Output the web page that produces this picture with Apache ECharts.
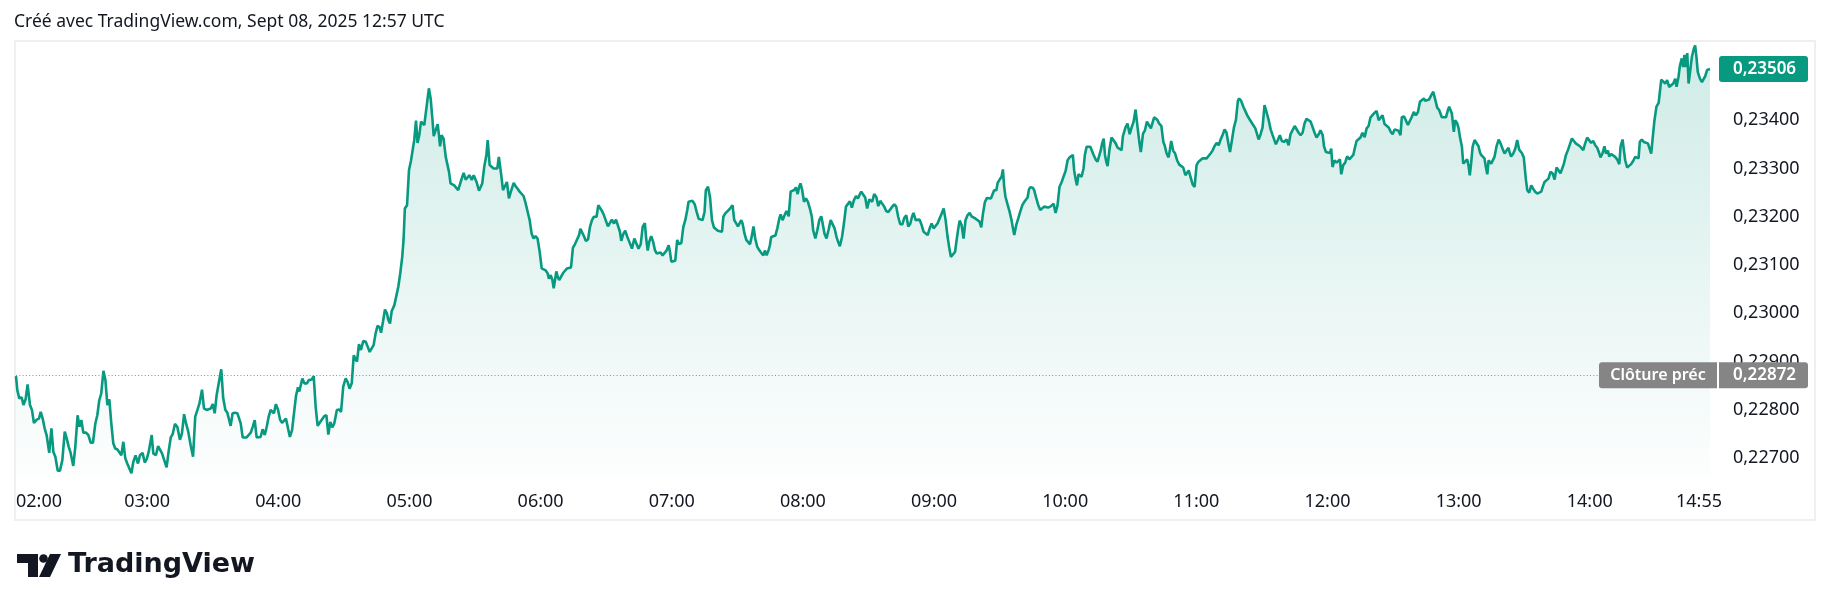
<!DOCTYPE html>
<html>
<head>
<meta charset="utf-8">
<script src="https://cdn.jsdelivr.net/npm/echarts@6/dist/echarts.min.js"></script>
<style>
  html, body { margin: 0; padding: 0; background: #fff; }
  #chart { width: 1830px; height: 611px; }
</style>
</head>
<body>
<div id="chart"></div>
<script>
// minutes after 02:00 UTC
var minutes = [
  0.0,0.6,1.5,2.6,3.4,4.4,5.3,6.4,7.3,8.2,9.5,10.5,11.3,12.2,13.1,14.0,15.2,16.2,17.1,18.0,
  19.1,20.1,21.2,22.3,23.2,24.1,25.0,26.2,27.1,28.2,29.0,29.9,30.8,32.0,33.1,34.2,35.2,36.3,37.2,38.1,
  39.0,40.0,40.9,41.8,42.7,43.6,44.5,45.4,46.4,47.3,48.2,49.1,50.0,50.9,51.8,52.8,53.7,54.7,55.8,56.7,
  57.9,58.9,59.8,60.7,62.1,62.8,64.0,65.0,65.9,66.8,67.7,68.9,69.8,70.8,71.7,72.7,73.8,75.0,75.9,76.9,
  77.8,78.8,79.9,81.0,82.0,83.0,83.9,85.1,86.0,87.2,88.1,89.1,90.0,90.9,91.8,92.7,93.3,93.9,94.8,95.8,
  96.7,97.6,98.2,99.1,100.2,101.3,101.9,102.8,103.7,104.6,105.5,106.4,107.4,108.3,109.2,110.1,111.0,111.9,112.8,113.8,
  114.7,115.6,116.5,117.4,118.0,118.9,119.9,120.8,121.7,122.6,123.5,124.4,125.3,126.3,127.2,128.1,129.0,129.6,
  // 04:10 -> 06:20
  131.0,131.9,133.1,134.0,135.3,136.2,137.1,138.0,138.9,139.8,141.0,142.0,142.9,143.8,144.7,145.6,146.8,147.8,148.7,149.7,
  150.8,151.7,152.6,153.6,154.5,155.4,156.0,156.9,157.8,158.9,160.0,160.9,161.8,162.7,163.6,164.5,165.4,166.4,167.0,167.9,
  168.8,169.7,170.3,171.1,171.9,173.1,174.0,174.9,175.8,176.7,177.3,177.9,178.9,179.8,180.7,181.6,182.2,183.0,183.7,184.5,
  185.3,186.0,186.8,187.4,188.2,188.9,189.7,190.5,191.1,192.0,192.9,193.5,194.0,194.7,195.6,196.6,197.5,198.1,198.8,199.6,
  200.5,201.4,202.3,203.1,203.9,204.8,205.7,206.6,207.5,208.5,209.4,210.0,210.7,211.8,212.7,213.3,214.2,215.2,215.8,216.7,
  217.6,218.5,219.4,220.2,220.9,221.9,222.8,223.7,224.6,225.5,226.4,227.1,227.7,228.6,229.5,230.4,231.3,232.2,233.2,234.1,
  235.0,235.9,236.8,237.7,238.6,239.6,240.5,241.4,242.3,243.2,243.8,244.6,245.4,246.0,246.6,247.2,247.8,248.5,249.3,250.2,
  251.1,252.1,253.0,253.9,254.8,255.7,256.6,257.6,258.2,259.1,260.0,
  // 06:20 -> 08:30
  260.7,261.7,262.6,263.5,264.4,265.6,266.4,267.1,268.1,269.0,269.9,270.8,271.7,272.6,273.6,274.5,275.4,276.3,276.9,277.8,
  278.7,279.7,280.6,281.8,282.9,283.8,284.8,285.8,286.7,287.7,288.3,289.0,289.7,290.6,291.5,292.3,293.1,294.0,294.9,295.8,
  296.7,297.6,298.6,299.2,299.8,300.7,301.6,302.5,303.4,304.4,305.3,306.2,307.1,307.7,308.6,309.5,310.5,311.4,312.3,313.2,
  314.1,315.0,315.6,316.6,317.5,318.4,319.3,320.2,321.1,322.0,323.0,323.6,324.5,325.4,326.3,327.2,327.8,328.6,329.4,330.3,
  330.9,331.8,332.4,333.3,334.1,335.0,335.8,336.7,337.4,338.2,339.1,340.0,341.0,341.9,342.6,343.4,344.3,344.9,345.5,346.4,
  347.4,348.3,349.2,349.8,350.7,351.6,352.5,353.5,354.4,355.3,356.2,356.8,357.6,358.3,358.9,359.7,360.5,361.4,362.3,363.2,
  364.1,364.7,365.7,366.6,367.5,368.4,369.0,369.9,370.8,371.8,372.7,373.6,374.5,375.4,376.3,376.9,377.9,378.8,379.7,380.6,
  381.5,382.4,383.3,384.3,385.2,386.1,386.7,387.6,388.5,389.4,390.4,
  // 08:30 -> 10:40
  391.7,392.6,393.6,394.5,395.4,396.3,397.2,398.1,399.1,400.0,400.9,401.8,402.7,403.6,404.5,405.5,406.4,407.3,408.2,409.1,
  410.0,410.6,411.6,412.5,413.4,414.3,415.2,416.1,417.1,418.0,418.9,419.8,420.7,421.6,422.5,423.5,424.4,425.3,426.2,427.1,
  427.7,428.6,429.6,430.5,431.1,431.7,432.6,433.5,434.4,435.3,436.3,437.2,438.1,439.0,439.9,440.8,441.6,442.4,443.3,444.2,
  445.1,446.0,446.9,447.5,448.5,449.1,450.0,450.9,451.5,452.1,452.7,453.6,454.6,455.5,456.1,456.7,457.6,458.5,459.4,460.4,
  461.3,462.2,462.8,463.4,464.0,465.2,465.8,466.8,467.7,468.6,469.5,470.4,471.3,472.2,473.2,474.1,474.7,475.6,476.5,477.4,
  478.4,479.3,480.2,481.1,482.0,482.9,483.5,484.1,484.8,485.4,486.1,486.9,487.5,488.4,489.0,489.8,490.6,491.5,492.4,493.0,
  493.9,494.8,495.7,496.3,496.9,497.6,498.2,498.8,499.4,500.3,501.2,502.1,503.1,504.0,504.9,505.8,506.4,507.0,507.6,508.5,
  509.5,510.4,511.3,512.2,513.1,514.0,514.6,515.6,516.5,517.4,518.3,519.2,520.1,520.7,
  // 10:40 -> 12:50
  521.2,522.1,523.0,524.0,524.9,525.5,526.4,527.3,527.9,528.5,529.4,530.3,531.3,532.2,533.1,534.0,535.0,535.5,536.5,537.4,
  538.3,539.2,540.1,541.0,541.9,542.9,543.8,544.7,545.6,546.5,547.4,548.3,549.3,550.2,551.1,552.0,552.9,553.8,554.8,555.4,
  556.3,557.2,558.1,559.0,559.6,560.5,561.5,562.4,563.3,564.2,565.1,566.0,567.0,567.6,568.5,569.4,570.3,571.2,572.1,573.1,
  574.0,574.9,575.8,576.4,577.3,578.2,579.1,580.1,580.7,581.3,582.2,583.1,584.0,585.0,585.9,586.8,587.7,588.6,589.5,590.4,
  591.3,592.3,593.2,594.1,595.0,596.0,596.8,597.8,598.4,599.3,600.2,601.1,601.7,602.3,603.2,604.2,605.1,605.7,606.3,607.2,
  608.1,609.0,610.0,610.9,611.8,612.7,613.3,614.2,615.1,616.0,617.0,617.9,618.8,619.7,620.6,621.5,622.5,623.4,624.3,625.2,
  626.1,627.0,628.0,628.9,629.8,630.7,631.6,632.5,633.4,634.0,635.0,635.9,636.8,637.7,638.6,639.5,640.4,641.4,642.3,643.2,
  644.1,644.7,645.6,646.5,647.5,648.4,649.3,650.2,651.1,
  // 12:50 -> 14:55
  652.3,653.2,654.2,655.1,655.7,656.3,656.9,657.8,658.4,659.3,660.0,660.6,661.5,662.1,663.0,663.9,664.5,665.1,665.7,666.4,
  667.3,668.2,669.1,669.7,670.3,671.2,671.8,672.5,673.1,673.7,674.3,674.9,675.8,676.4,677.3,678.3,679.2,680.1,681.0,681.9,
  682.8,683.4,684.0,685.0,685.9,686.8,687.7,688.3,688.9,689.8,690.8,691.4,692.3,693.2,694.1,695.0,696.0,696.9,697.8,698.7,
  699.3,700.2,701.1,702.0,703.0,703.9,704.8,705.7,706.6,707.2,708.1,709.1,710.0,710.9,711.8,712.7,713.6,714.5,715.5,716.4,
  717.0,717.9,718.8,719.7,720.6,721.6,722.5,723.4,724.3,724.9,725.8,726.7,727.4,728.3,728.9,729.8,730.7,731.6,732.5,733.5,
  734.1,735.0,735.6,736.2,737.1,738.0,738.9,739.9,740.8,741.7,742.3,742.9,743.8,744.7,745.6,746.6,747.2,748.1,748.7,749.6,
  750.5,751.5,752.1,752.7,753.6,754.5,755.4,756.3,757.2,758.2,759.1,759.7,760.6,761.2,762.1,762.7,763.3,763.9,764.6,765.2,
  765.8,766.7,767.6,768.2,768.8,769.4,770.4,771.3,772.2,772.8,773.7,774.6,775.0
]

var prices = [
  0.22870,0.22841,0.22824,0.22826,0.22810,0.22822,0.22853,0.22810,0.22800,0.22773,0.22780,0.22782,0.22796,0.22782,0.22762,0.22748,0.22711,0.22762,0.22713,0.22703,
  0.22674,0.22674,0.22696,0.22755,0.22741,0.22724,0.22711,0.22684,0.22722,0.22789,0.22765,0.22779,0.22753,0.22753,0.22748,0.22732,0.22732,0.22772,0.22789,0.22820,
  0.22834,0.22881,0.22862,0.22810,0.22822,0.22772,0.22731,0.22720,0.22718,0.22715,0.22706,0.22734,0.22700,0.22689,0.22688,0.22669,0.22693,0.22706,0.22689,0.22706,
  0.22711,0.22691,0.22698,0.22713,0.22748,0.22710,0.22706,0.22725,0.22727,0.22710,0.22706,0.22681,0.22713,0.22743,0.22750,0.22771,0.22765,0.22738,0.22751,0.22791,
  0.22772,0.22755,0.22727,0.22703,0.22786,0.22800,0.22813,0.22842,0.22803,0.22800,0.22796,0.22803,0.22812,0.22793,0.22831,0.22833,0.22869,0.22884,0.22824,0.22800,
  0.22794,0.22794,0.22767,0.22793,0.22794,0.22793,0.22796,0.22772,0.22743,0.22746,0.22743,0.22746,0.22753,0.22765,0.22779,0.22743,0.22746,0.22744,0.22760,0.22748,
  0.22765,0.22786,0.22800,0.22803,0.22793,0.22812,0.22800,0.22780,0.22773,0.22773,0.22782,0.22778,0.22744,0.22758,0.22794,0.22829,0.22847,0.22838,

  0.22865,0.22855,0.22855,0.22862,0.22863,0.22870,0.22806,0.22767,0.22769,0.22779,0.22787,0.22789,0.22749,0.22775,0.22764,0.22772,0.22800,0.22801,0.22796,0.22848,
  0.22865,0.22858,0.22844,0.22855,0.22913,0.22913,0.22900,0.22936,0.22924,0.22943,0.22941,0.22931,0.22920,0.22924,0.22934,0.22958,0.22974,0.22971,0.22960,0.22983,
  0.23008,0.23000,0.22987,0.22979,0.23005,0.23017,0.23020,0.23055,0.23083,0.23117,0.23152,0.23217,0.23224,0.23297,0.23316,0.23317,0.23359,0.23399,0.23353,0.23369,
  0.23397,0.23400,0.23390,0.23412,0.23441,0.23466,0.23445,0.23403,0.23367,0.23371,0.23392,0.23369,0.23346,0.23369,0.23362,0.23324,0.23323,0.23293,0.23269,0.23267,
  0.23265,0.23262,0.23255,0.23258,0.23279,0.23291,0.23277,0.23281,0.23286,0.23276,0.23286,0.23290,0.23272,0.23254,0.23252,0.23269,0.23303,0.23328,0.23359,0.23307,
  0.23303,0.23300,0.23298,0.23300,0.23324,0.23290,0.23255,0.23252,0.23272,0.23238,0.23252,0.23262,0.23270,0.23263,0.23258,0.23252,0.23248,0.23243,0.23227,0.23210,
  0.23193,0.23165,0.23155,0.23160,0.23155,0.23127,0.23093,0.23091,0.23089,0.23083,0.23072,0.23079,0.23069,0.23052,0.23069,0.23087,0.23076,0.23069,0.23070,0.23083,
  0.23086,0.23093,0.23094,0.23095,0.23136,0.23143,0.23147,0.23162,0.23175,0.23174,0.23158,

  0.23150,0.23153,0.23179,0.23193,0.23200,0.23200,0.23224,0.23222,0.23212,0.23203,0.23205,0.23180,0.23183,0.23194,0.23186,0.23194,0.23190,0.23169,0.23150,0.23164,
  0.23171,0.23158,0.23148,0.23134,0.23155,0.23153,0.23134,0.23143,0.23179,0.23187,0.23155,0.23130,0.23148,0.23160,0.23148,0.23131,0.23124,0.23125,0.23126,0.23120,
  0.23124,0.23130,0.23141,0.23127,0.23107,0.23105,0.23109,0.23152,0.23143,0.23146,0.23179,0.23193,0.23214,0.23231,0.23229,0.23233,0.23226,0.23210,0.23196,0.23192,
  0.23193,0.23210,0.23255,0.23262,0.23241,0.23193,0.23178,0.23176,0.23171,0.23167,0.23169,0.23200,0.23207,0.23210,0.23215,0.23212,0.23224,0.23193,0.23193,0.23180,
  0.23179,0.23193,0.23186,0.23165,0.23152,0.23148,0.23143,0.23162,0.23180,0.23155,0.23138,0.23131,0.23125,0.23120,0.23130,0.23120,0.23131,0.23141,0.23158,0.23161,
  0.23161,0.23176,0.23196,0.23205,0.23193,0.23203,0.23212,0.23201,0.23252,0.23254,0.23256,0.23261,0.23247,0.23262,0.23269,0.23255,0.23231,0.23238,0.23231,0.23217,
  0.23200,0.23172,0.23155,0.23172,0.23193,0.23201,0.23187,0.23165,0.23155,0.23174,0.23193,0.23194,0.23176,0.23158,0.23146,0.23139,0.23158,0.23187,0.23221,0.23224,
  0.23232,0.23219,0.23234,0.23243,0.23238,0.23247,0.23252,0.23252,0.23240,0.23217,0.23236,

  0.23231,0.23247,0.23241,0.23222,0.23233,0.23229,0.23221,0.23212,0.23210,0.23214,0.23221,0.23226,0.23221,0.23200,0.23185,0.23184,0.23198,0.23203,0.23180,0.23185,
  0.23201,0.23208,0.23193,0.23190,0.23194,0.23183,0.23169,0.23167,0.23162,0.23176,0.23186,0.23176,0.23174,0.23186,0.23196,0.23207,0.23217,0.23193,0.23158,0.23132,
  0.23117,0.23120,0.23127,0.23157,0.23176,0.23192,0.23183,0.23155,0.23193,0.23203,0.23208,0.23201,0.23205,0.23196,0.23193,0.23190,0.23178,0.23207,0.23231,0.23239,
  0.23239,0.23238,0.23241,0.23255,0.23255,0.23270,0.23277,0.23283,0.23298,0.23262,0.23241,0.23226,0.23210,0.23192,0.23176,0.23162,0.23183,0.23196,0.23210,0.23224,
  0.23231,0.23234,0.23240,0.23256,0.23261,0.23260,0.23255,0.23238,0.23224,0.23214,0.23217,0.23221,0.23221,0.23219,0.23221,0.23224,0.23227,0.23208,0.23224,0.23262,
  0.23272,0.23284,0.23295,0.23317,0.23323,0.23325,0.23328,0.23296,0.23277,0.23265,0.23288,0.23288,0.23283,0.23300,0.23328,0.23345,0.23348,0.23345,0.23345,0.23328,
  0.23319,0.23314,0.23312,0.23338,0.23352,0.23362,0.23328,0.23314,0.23305,0.23341,0.23364,0.23360,0.23352,0.23343,0.23341,0.23338,0.23367,0.23376,0.23385,0.23393,
  0.23371,0.23385,0.23397,0.23422,0.23386,0.23352,0.23334,0.23372,0.23379,0.23397,0.23399,0.23383,0.23385,0.23406,

  0.23408,0.23401,0.23393,0.23388,0.23355,0.23348,0.23331,0.23323,0.23339,0.23357,0.23337,0.23331,0.23316,0.23308,0.23305,0.23302,0.23286,0.23283,0.23296,0.23295,
  0.23267,0.23262,0.23307,0.23314,0.23316,0.23321,0.23323,0.23321,0.23323,0.23331,0.23337,0.23346,0.23353,0.23348,0.23360,0.23369,0.23381,0.23374,0.23348,0.23334,
  0.23359,0.23385,0.23400,0.23440,0.23445,0.23440,0.23428,0.23431,0.23410,0.23403,0.23399,0.23390,0.23383,0.23385,0.23360,0.23371,0.23385,0.23431,0.23417,0.23400,
  0.23381,0.23369,0.23369,0.23350,0.23359,0.23369,0.23357,0.23355,0.23355,0.23360,0.23348,0.23371,0.23374,0.23388,0.23388,0.23374,0.23369,0.23374,0.23393,0.23403,
  0.23406,0.23397,0.23397,0.23374,0.23364,0.23371,0.23379,0.23369,0.23346,0.23334,0.23331,0.23332,0.23341,0.23303,0.23317,0.23312,0.23314,0.23319,0.23288,0.23307,
  0.23312,0.23325,0.23319,0.23319,0.23328,0.23346,0.23357,0.23359,0.23364,0.23374,0.23365,0.23383,0.23388,0.23406,0.23410,0.23415,0.23419,0.23400,0.23403,0.23410,
  0.23392,0.23390,0.23385,0.23376,0.23371,0.23381,0.23383,0.23378,0.23369,0.23406,0.23408,0.23412,0.23390,0.23394,0.23407,0.23417,0.23410,0.23417,0.23438,0.23441,
  0.23445,0.23440,0.23441,0.23443,0.23452,0.23459,0.23457,0.23426,0.23421,

  0.23406,0.23403,0.23406,0.23421,0.23428,0.23424,0.23414,0.23376,0.23400,0.23394,0.23383,0.23365,0.23345,0.23310,0.23307,0.23319,0.23307,0.23286,0.23310,0.23345,
  0.23359,0.23360,0.23346,0.23334,0.23328,0.23328,0.23321,0.23302,0.23288,0.23317,0.23321,0.23310,0.23314,0.23324,0.23345,0.23360,0.23352,0.23341,0.23331,0.23337,
  0.23343,0.23332,0.23325,0.23331,0.23341,0.23359,0.23339,0.23337,0.23332,0.23323,0.23276,0.23255,0.23250,0.23265,0.23258,0.23252,0.23248,0.23247,0.23252,0.23265,
  0.23272,0.23270,0.23279,0.23293,0.23290,0.23277,0.23302,0.23305,0.23290,0.23293,0.23309,0.23328,0.23338,0.23350,0.23362,0.23360,0.23352,0.23348,0.23346,0.23346,
  0.23338,0.23352,0.23364,0.23362,0.23353,0.23357,0.23348,0.23343,0.23332,0.23323,0.23331,0.23346,0.23331,0.23337,0.23325,0.23330,0.23328,0.23324,0.23319,0.23309,
  0.23346,0.23360,0.23338,0.23317,0.23302,0.23303,0.23309,0.23316,0.23324,0.23328,0.23321,0.23355,0.23360,0.23355,0.23352,0.23352,0.23350,0.23331,0.23359,0.23400,
  0.23428,0.23436,0.23438,0.23484,0.23484,0.23476,0.23483,0.23469,0.23466,0.23476,0.23486,0.23469,0.23490,0.23512,0.23528,0.23510,0.23535,0.23510,0.23539,0.23476,
  0.23497,0.23531,0.23548,0.23555,0.23531,0.23500,0.23486,0.23479,0.23483,0.23491,0.23504,0.23505,0.23506
]

var xTicks = [0, 60, 120, 180, 240, 300, 360, 420, 480, 540, 600, 660, 720, 775]
var yTicks = [0.227, 0.228, 0.229, 0.230, 0.231, 0.232, 0.233, 0.234]
var prevClose = 0.22872
var lastPrice = 0.23506

var lineColor = '#089981'
var textColor = '#131722'
var font = '"Noto Sans", sans-serif'

function timeLabel(m) {
  var h = 2 + Math.floor(m / 60), mm = Math.round(m % 60)
  var s = (h < 10 ? '0' : '') + h + ':' + (mm < 10 ? '0' : '') + mm
  // last label sits a bit left of the final point, like the price scale gutter
  return m === xTicks[xTicks.length - 1] ? '{last|' + s + '}' : s
}
function priceLabel(v) {
  return v.toFixed(5).replace('.', ',')
}

var chart = echarts.init(document.getElementById('chart'))
chart.setOption({
  animation: false,
  backgroundColor: '#fff',
  grid: {left: 16, right: 120, top: 41, bottom: 133},
  xAxis: {
    type: 'value', min: 0, max: 775, interval: 60,
    axisLine: {show: false}, axisTick: {show: false}, splitLine: {show: false},
    axisLabel: {
      customValues: xTicks, formatter: timeLabel, color: textColor,
      fontSize: 18, fontFamily: font, margin: 15,
      alignMinLabel: 'left',
      rich: {last: {fontSize: 18, fontFamily: font, color: textColor, padding: [0, 22, 0, 0]}}
    }
  },
  yAxis: {
    type: 'value', position: 'right', min: 0.22659, max: 0.23564,
    axisLine: {show: false}, axisTick: {show: false}, splitLine: {show: false},
    axisLabel: {
      customValues: yTicks, formatter: priceLabel, color: textColor,
      fontSize: 18, fontFamily: font, margin: 23
    }
  },
  series: [{
    type: 'line',
    data: minutes.map(function (m, i) { return [m, prices[i]] }),
    showSymbol: false,
    lineStyle: {color: lineColor, width: 2.6},
    itemStyle: {color: lineColor},
    areaStyle: {
      color: new echarts.graphic.LinearGradient(0, 0, 0, 1, [
        {offset: 0, color: 'rgba(8,153,129,0.28)'},
        {offset: 1, color: 'rgba(8,153,129,0.01)'}
      ])
    },
    markLine: {
      silent: true, symbol: 'none', precision: 5, label: {show: false},
      lineStyle: {color: '#8c8c8c', type: [1, 2.3], width: 1},
      data: [{yAxis: prevClose}]
    }
  }]
})

// badges on the price scale, placed through the axis
var yLast = chart.convertToPixel({yAxisIndex: 0}, lastPrice)
var yPrev = chart.convertToPixel({yAxisIndex: 0}, prevClose)

chart.setOption({
  graphic: [
    {type: 'rect', z: 0, silent: true, shape: {x: 15, y: 41, width: 1800, height: 479},
      style: {fill: null, stroke: '#efefef', lineWidth: 2}},
    {type: 'text', x: 14, y: 22, silent: true,
      style: {text: 'Créé avec TradingView.com, Sept 08, 2025 12:57 UTC', fill: textColor,
        font: '17.5px ' + font, verticalAlign: 'middle'}},
    // last price
    {type: 'rect', z: 100, shape: {x: 1719, y: yLast - 13, width: 89, height: 26, r: 3},
      style: {fill: lineColor}},
    {type: 'text', z: 101, x: 1733, y: yLast,
      style: {text: priceLabel(lastPrice), fill: '#fff', font: '600 17px ' + font, verticalAlign: 'middle'}},
    // previous close
    {type: 'rect', z: 100, shape: {x: 1599, y: yPrev - 13, width: 118, height: 26, r: [3, 0, 0, 3]},
      style: {fill: '#858585'}},
    {type: 'text', z: 101, x: 1658, y: yPrev,
      style: {text: 'Clôture préc', fill: '#fff', font: '600 16px ' + font, align: 'center', verticalAlign: 'middle'}},
    {type: 'rect', z: 100, shape: {x: 1719, y: yPrev - 13, width: 89, height: 26, r: [0, 3, 3, 0]},
      style: {fill: '#858585'}},
    {type: 'text', z: 101, x: 1733, y: yPrev,
      style: {text: priceLabel(prevClose), fill: '#fff', font: '600 17px ' + font, verticalAlign: 'middle'}},
    // TradingView logo
    {type: 'polygon', shape: {points: [[17, 554], [38, 554], [38, 577], [28, 577], [28, 563], [17, 563]]},
      style: {fill: textColor}},
    {type: 'circle', shape: {cx: 43.5, cy: 558.5, r: 4.3}, style: {fill: textColor}},
    {type: 'polygon', shape: {points: [[50, 554], [61, 554], [50, 577], [39, 577]]},
      style: {fill: textColor}},
    {type: 'text', x: 68, y: 565, silent: true,
      style: {text: 'TradingView', fill: textColor, font: 'bold 27px "DejaVu Sans", sans-serif', verticalAlign: 'middle'}}
  ]
})
</script>
</body>
</html>
